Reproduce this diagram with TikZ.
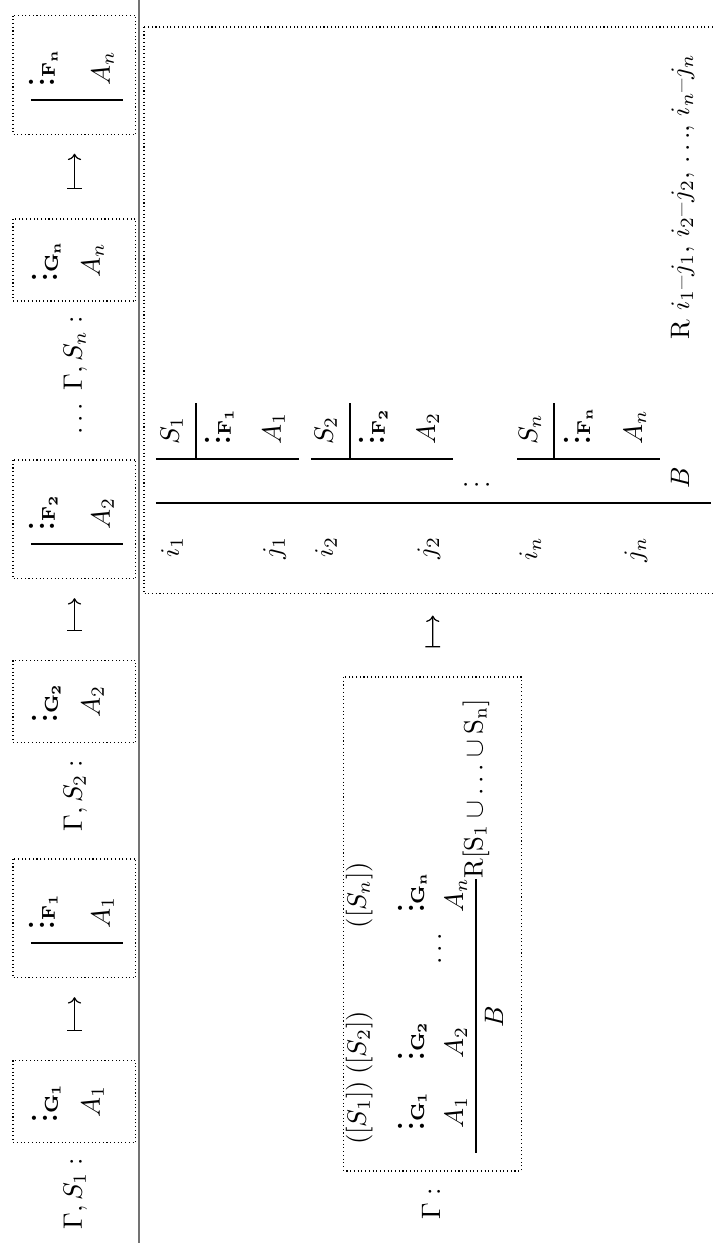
\documentclass[tikz,border=0pt]{standalone}
\usepackage{amsmath, amssymb}
\usepackage{tikz}
\usetikzlibrary{arrows.meta}

\newcommand{\derv}[1]{\text{\bfseries$\vdots$}{\scriptstyle\mathbf{#1}}}

\begin{document}
\begin{tikzpicture}[
  x=0.375pt, y=0.375pt,
  dbox/.style={draw, densely dotted, inner sep=0pt},
  gbox/.style={dbox, minimum width=30.75pt, minimum height=46.1pt},
  fitbox/.style={dbox, minimum width=44.6pt, minimum height=46.1pt},
  txt/.style={inner sep=0pt, anchor=base west},
  ctxt/.style={inner sep=0pt, anchor=base},
  rtxt/.style={inner sep=0pt, anchor=base east},
  fitchbar/.style={line width=0.4pt},
  mapsto/.style={{Bar[width=5.6pt]}-{To[length=2.4pt, width=5pt]}, line width=0.45pt, shorten <=10.9pt, shorten >=7pt}
]
\begin{scope}[rotate=90, transform shape]
  \useasboundingbox (0,0) rectangle (1243,715);

  % top row: one derivation per S_k
  \node[txt] (lab1) at (13,633) {$\Gamma, S_1 :$};
  \node[gbox] (g1) at (141.5,640.5) {};
  \node[ctxt] (g1v) at (140,657) {$\derv{G_1}$};
  \node[ctxt] (g1a) at (141.5,615) {$A_1$};
  \node[fitbox] (f1) at (324.5,640.5) {};
  \draw[fitchbar] (300,684) -- (300,592);
  \node[txt] (f1v) at (313,660) {$\derv{F_1}$};
  \node[txt] (f1a) at (314,605) {$A_1$};
  \draw[mapsto] (g1) -- (f1);

  \node[txt] (lab2) at (411,633) {$\Gamma, S_2 :$};
  \node[gbox] (g2) at (541.5,640.5) {};
  \node[ctxt] (g2v) at (540,657) {$\derv{G_2}$};
  \node[ctxt] (g2a) at (541.5,615) {$A_2$};
  \node[fitbox] (f2) at (723.5,640.5) {};
  \draw[fitchbar] (699,684) -- (699,592);
  \node[txt] (f2v) at (712,660) {$\derv{F_2}$};
  \node[txt] (f2a) at (713,605) {$A_2$};
  \draw[mapsto] (g2) -- (f2);

  \node[txt] (labn) at (808,633) {$\ldots\ \Gamma, S_n :$};
  \node[gbox] (gn) at (983,640.5) {};
  \node[ctxt] (gnv) at (981.5,657) {$\derv{G_n}$};
  \node[ctxt] (gna) at (983,615) {$A_n$};
  \node[fitbox] (fn) at (1168,640.5) {};
  \draw[fitchbar] (1143,684) -- (1143,592);
  \node[txt] (fnv) at (1156,660) {$\derv{F_n}$};
  \node[txt] (fna) at (1157,605) {$A_n$};
  \draw[mapsto] (gn) -- (fn);

  \draw[black!55] (0,576) -- (1243,576);

  % bottom row: natural deduction tree
  \node[txt] (gam) at (23,275) {$\Gamma :$};
  \node[dbox, minimum width=185.25pt, minimum height=66.4pt] (nd) at (319,282.5) {};
  \node[ctxt] (h1) at (130,349) {$([S_1])$};
  \node[ctxt] (h2) at (200,349) {$([S_2])$};
  \node[ctxt] (hn) at (348,349) {$([S_n])$};
  \node[ctxt] (d1) at (132,291) {$\derv{G_1}$};
  \node[ctxt] (d2) at (202,291) {$\derv{G_2}$};
  \node[ctxt] (dn) at (350,291) {$\derv{G_n}$};
  \node[ctxt] (p1) at (130,252) {$A_1$};
  \node[ctxt] (p2) at (200,252) {$A_2$};
  \node[ctxt] (pdots) at (294,274) {$\ldots$};
  \node[ctxt] (pn) at (348,252) {$A_n$};
  \node[inner sep=0pt, anchor=west] (rule) at (364,239) {$\mathrm{R[S_1 \cup \ldots \cup S_n]}$};
  \draw (90,239) -- (rule.west);
  \node[ctxt] (concl) at (226,212) {$B$};

  % bottom row: Fitch proof
  \node[dbox, minimum width=212.6pt, minimum height=216.75pt] (fitch) at (932.5,282) {};
  \draw[mapsto, shorten >=7.9pt] (nd) -- (fitch);
  \draw[fitchbar] (740,559) -- (740,4);

  \draw[fitchbar] (784,559) -- (784,416);
  \draw[fitchbar] (784,519) -- (840,519);
  \node[txt] (s1) at (798,536) {$S_1$};
  \node[txt] (s1v) at (798,484) {$\derv{F_1}$};
  \node[txt] (s1a) at (798,434) {$A_1$};
  \node[rtxt] (i1) at (707,536) {$i_1$};
  \node[rtxt] (j1) at (707,434) {$j_1$};

  \draw[fitchbar] (784,404) -- (784,262);
  \draw[fitchbar] (784,365) -- (840,365);
  \node[txt] (s2) at (798,382) {$S_2$};
  \node[txt] (s2v) at (798,330) {$\derv{F_2}$};
  \node[txt] (s2a) at (798,280) {$A_2$};
  \node[rtxt] (i2) at (707,382) {$i_2$};
  \node[rtxt] (j2) at (707,280) {$j_2$};

  \node[txt] (vd) at (754,226) {$\vdots$};

  \draw[fitchbar] (784,198) -- (784,55);
  \draw[fitchbar] (784,161) -- (840,161);
  \node[txt] (sn) at (798,178) {$S_n$};
  \node[txt] (snv) at (798,125) {$\derv{F_n}$};
  \node[txt] (sna) at (798,73) {$A_n$};
  \node[rtxt] (in) at (707,178) {$i_n$};
  \node[rtxt] (jn) at (707,73) {$j_n$};

  \node[txt] (concb) at (754,26) {$B$};
  \node[txt] (rlab) at (903,26) {R $i_1$--$j_1$, $i_2$--$j_2$, $\ldots$, $i_n$--$j_n$};
\end{scope}
\end{tikzpicture}
\end{document}
